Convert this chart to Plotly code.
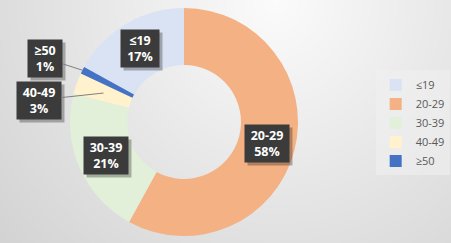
import math
import numpy as np
import plotly.graph_objects as go

# ---- data ----
labels = ["≤19", "20-29", "30-39", "40-49", "≥50"]
values = [17, 58, 21, 3, 1]
colors = ["#dae3f3", "#f4b183", "#e2f0d9", "#fff2cc", "#4472c4"]

# ---- layout geometry (pixels) ----
W, H = 451, 243
CX, CY, R = 184, 122, 114
HOLE = 0.5
# label placement: (radius factor of tip, ax, ay, showarrow, box width)
label_style = {
    "≤19": (0.75, 0, 0, False, 30),
    "20-29": (0.75, 0, 0, False, 36),
    "30-39": (0.75, 0, 0, False, 36),
    "40-49": (0.75, -65, 7, True, 36),
    "≥50": (1.0, -37, -12, True, 26),
}
BOX_H = 29

total = sum(values)
rotation = -360.0 * values[0] / total

fig = go.Figure()

# radial-gradient background
gx = np.linspace(-2, W + 2, 70)
gy = np.linspace(-2, H + 2, 40)
XX, YY = np.meshgrid(gx, gy)
Z = 251 - 0.11 * np.hypot(XX - 275, YY - 0)
fig.add_trace(go.Heatmap(
    x=gx, y=gy, z=Z, zmin=190, zmax=255, zsmooth="best",
    colorscale=[[0, "rgb(190,190,190)"], [1, "rgb(255,255,255)"]],
    showscale=False, hoverinfo="skip", showlegend=False))

fig.add_trace(go.Pie(
    labels=labels, values=values, hole=HOLE, sort=False,
    direction="clockwise", rotation=rotation,
    marker=dict(colors=colors, line=dict(width=0)),
    textinfo="none",
    domain=dict(x=[(CX - R) / W, (CX + R) / W], y=[1 - (CY + R) / H, 1 - (CY - R) / H]),
    hoverinfo="label+percent"))

annotations = []
cum = 0.0
for lab, v in zip(labels, values):
    theta = math.radians(rotation + (cum + v / 2) / total * 360)
    cum += v
    rf, ax, ay, arrow, bw = label_style[lab]
    px = CX + rf * R * math.sin(theta)
    py = CY - rf * R * math.cos(theta)
    pct = round(100 * v / total)
    text = f"<b>{lab}<br>{pct}%</b>"
    common = dict(x=px / W, y=1 - py / H, xref="paper", yref="paper",
                  showarrow=True, ax=ax, ay=ay, axref="pixel", ayref="pixel",
                  arrowhead=0, arrowwidth=1, standoff=0, borderpad=4,
                  width=bw, height=BOX_H)
    # drop shadow (empty box)
    s = dict(common)
    s.update(text=" ", bgcolor="rgba(0,0,0,0.28)", arrowcolor="rgba(0,0,0,0)",
             font=dict(family="Open Sans", size=12, color="rgba(0,0,0,0)"),
             xshift=3, yshift=-3)
    annotations.append(s)
    a = dict(common)
    a.update(text=text, bgcolor="#3b3b3b",
             arrowcolor="#7f7f7f" if arrow else "rgba(0,0,0,0)",
             font=dict(family="Open Sans", size=12.5, color="#ffffff"))
    annotations.append(a)

fig.update_layout(
    width=W, height=H,
    margin=dict(l=0, r=0, t=0, b=0),
    paper_bgcolor="#e0e0e0", plot_bgcolor="rgba(0,0,0,0)",
    xaxis=dict(range=[0, W], visible=False, fixedrange=True),
    yaxis=dict(range=[H, 0], visible=False, fixedrange=True),
    legend=dict(x=0.833, y=0.71, xanchor="left", yanchor="top",
                bgcolor="rgba(240,240,240,0.6)", tracegroupgap=0,
                font=dict(family="Open Sans", size=11, color="#595959")),
    annotations=annotations,
    showlegend=True,
)

fig.write_html("out.html")
